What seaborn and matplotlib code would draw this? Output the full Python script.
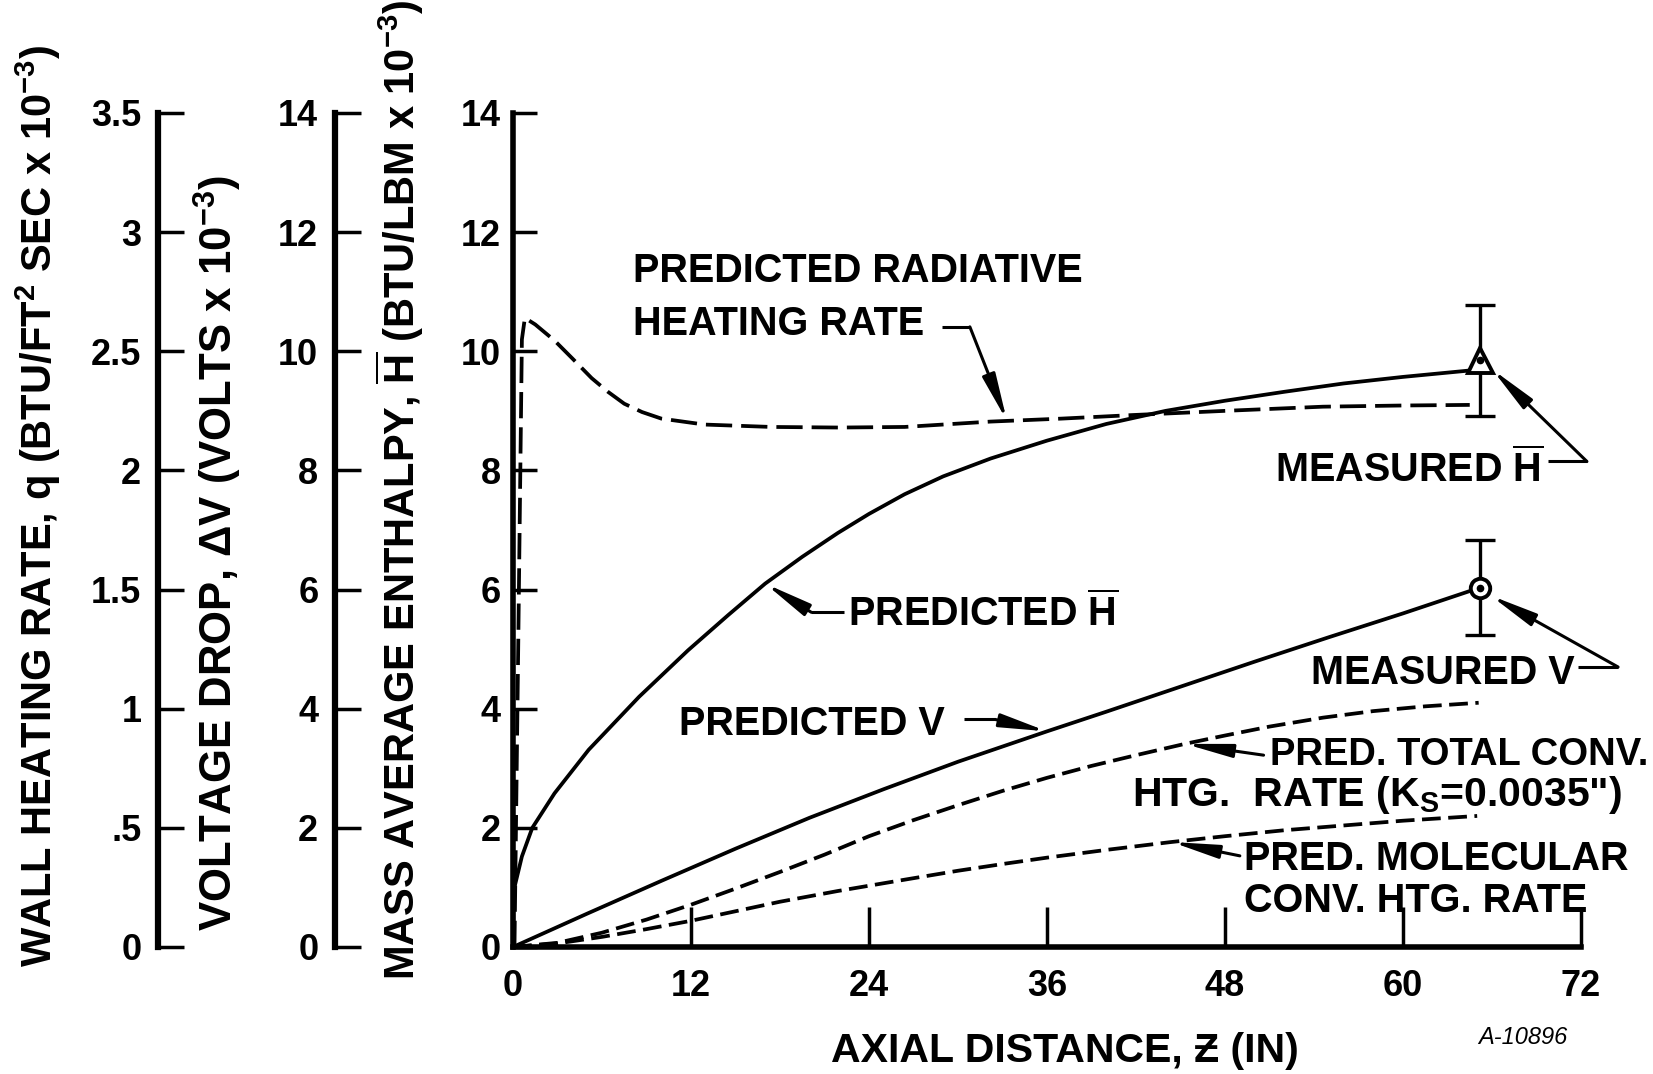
import numpy as np
import pandas as pd
import matplotlib
matplotlib.use("Agg")
import matplotlib.pyplot as plt
import seaborn as sns

# ---------------------------------------------------------------- data
# axial distance z (in) and curve values on the common 0-14 scale
Z_ENTH = [0, 0.6, 1.3, 2.8, 5.1, 8.5, 11.8, 14.5, 17.0, 19.5, 21.9, 24.0, 26.4,
          29.0, 32.2, 36.0, 40.0, 44.0, 48.0, 52.0, 56.0, 60.0, 64.6]
ENTH = [0.9, 1.52, 2.0, 2.58, 3.31, 4.2, 4.98, 5.57, 6.1, 6.55, 6.95, 7.27,
        7.6, 7.9, 8.2, 8.5, 8.78, 9.0, 9.17, 9.32, 9.46, 9.57, 9.68]

Z_RAD = [0.1, 0.35, 0.6, 0.8, 1.5, 2.8, 4.0, 5.3, 6.4, 7.5, 8.7, 10.0, 12.9,
         17.4, 22.0, 26.4, 32.2, 37.0, 41.8, 48.0, 54.6, 60.0, 64.5]
RAD = [0.0, 5.0, 10.2, 10.56, 10.45, 10.18, 9.88, 9.55, 9.32, 9.12, 8.98, 8.87,
       8.77, 8.73, 8.72, 8.73, 8.82, 8.87, 8.93, 9.0, 9.07, 9.09, 9.10]

Z_VOLT = [0, 5, 10, 15, 20, 25, 30, 36, 40, 45, 50, 55, 60, 64.8]
VOLT = [0, 0.56, 1.11, 1.65, 2.17, 2.65, 3.11, 3.62, 3.95, 4.37, 4.79, 5.2,
        5.6, 6.0]

Z_TOT = [0, 3, 6, 9, 12, 15, 18, 21, 24, 27, 30, 33, 36, 39, 42, 45.3, 48, 51,
         54.6, 58, 61.5, 65.1]
TOT = [0, 0.07, 0.24, 0.46, 0.71, 0.98, 1.26, 1.55, 1.86, 2.13, 2.38, 2.62,
       2.84, 3.04, 3.22, 3.41, 3.55, 3.7, 3.85, 3.96, 4.04, 4.1]

Z_MOL = [0, 3, 6, 9, 12, 15, 18, 21.9, 26.4, 30, 33.2, 36, 40, 44.3, 48, 52,
         56, 60, 65]
MOL = [0, 0.06, 0.17, 0.3, 0.44, 0.6, 0.76, 0.94, 1.13, 1.28, 1.4, 1.5, 1.63,
       1.76, 1.86, 1.96, 2.04, 2.12, 2.2]

# measured values with error range
MEAS_ENTH_Z, MEAS_ENTH, MEAS_ENTH_LO, MEAS_ENTH_HI = [65.2], [9.85], [8.92], [10.78]
MEAS_VOLT_Z, MEAS_VOLT, MEAS_VOLT_LO, MEAS_VOLT_HI = [65.2], [6.02], [5.24], [6.84]

X_TICKS = [0, 12, 24, 36, 48, 60, 72]
Y_TICKS = [0, 2, 4, 6, 8, 10, 12, 14]
Q_TICKS = [0, 0.5, 1, 1.5, 2, 2.5, 3, 3.5]
Q_LABELS = ["0", ".5", "1", "1.5", "2", "2.5", "3", "3.5"]

# ---------------------------------------------------------------- style
sns.set_theme(style="white")
plt.rcParams["font.family"] = ["Liberation Sans", "DejaVu Sans"]
plt.rcParams["font.weight"] = "bold"
plt.rcParams["mathtext.fontset"] = "custom"
plt.rcParams["mathtext.rm"] = "Liberation Sans:bold"
plt.rcParams["mathtext.bf"] = "Liberation Sans:bold"
plt.rcParams["mathtext.it"] = "Liberation Sans:bold"
plt.rcParams["mathtext.default"] = "rm"
plt.rcParams["axes.unicode_minus"] = True

INK = "black"
W, H = 1653, 1074
L, R, B, T = 513, 1581, 947, 113

fig = plt.figure(figsize=(W / 100, H / 100), dpi=100)
fig.patch.set_facecolor("white")
ax = fig.add_axes([L / W, 1 - B / H, (R - L) / W, (B - T) / H])
ax.set_facecolor("none")

# ---------------------------------------------------------------- curves
LW = 2.7
sns.lineplot(x=Z_ENTH, y=ENTH, ax=ax, color=INK, lw=LW, estimator=None, sort=False)
sns.lineplot(x=Z_VOLT, y=VOLT, ax=ax, color=INK, lw=LW, estimator=None, sort=False)
sns.lineplot(x=Z_RAD, y=RAD, ax=ax, color=INK, lw=LW, estimator=None, sort=False,
             linestyle=(0, (7, 2.4)))
sns.lineplot(x=Z_TOT, y=TOT, ax=ax, color=INK, lw=LW, estimator=None, sort=False,
             linestyle=(0, (5, 2)))
sns.lineplot(x=Z_MOL, y=MOL, ax=ax, color=INK, lw=LW, estimator=None, sort=False,
             linestyle=(0, (5, 2)))

# measured points with error bars
for zz, vv, lo, hi, mk, ms in [
        (MEAS_ENTH_Z, MEAS_ENTH, MEAS_ENTH_LO, MEAS_ENTH_HI, "^", 18),
        (MEAS_VOLT_Z, MEAS_VOLT, MEAS_VOLT_LO, MEAS_VOLT_HI, "o", 14)]:
    err = [np.subtract(vv, lo), np.subtract(hi, vv)]
    ax.errorbar(zz, vv, yerr=err, fmt="none", ecolor=INK, elinewidth=2.4,
                capsize=11, capthick=2.4, zorder=4)
    ax.plot(zz, vv, marker=mk, ms=ms, mfc="white", mec=INK, mew=2.8,
            linestyle="none", zorder=5)
    ax.plot(zz, vv, marker="o", ms=4.5, mfc=INK, mec=INK, linestyle="none",
            zorder=6)

# ---------------------------------------------------------------- main axes
ax.set_xlim(0, 72)
ax.set_ylim(0, 14)
ax.set_xticks(X_TICKS)
ax.set_yticks(Y_TICKS)
ax.set_yticks([14], minor=True)
for s in ["top", "right"]:
    ax.spines[s].set_visible(False)
for s in ["left", "bottom"]:
    ax.spines[s].set_linewidth(4)
    ax.spines[s].set_color(INK)
ax.tick_params(axis="y", which="major", direction="in", length=17, width=2.5,
               pad=9, labelsize=26, colors=INK, left=True)
ax.tick_params(axis="y", which="minor", direction="in", length=23, width=2.5,
               colors=INK, left=True)
ax.tick_params(axis="x", direction="in", length=29, width=2.5, pad=16,
               labelsize=26, colors=INK, bottom=True)
ax.set_xlabel("")
ax.set_ylabel("")

# ---------------------------------------------------------------- extra scales
def side_scale(xpix, lim, ticks, labels):
    a = fig.add_axes([xpix / W, 1 - B / H, 0.0004, (B - T) / H])
    a.set_ylim(*lim)
    a.set_yticks(ticks)
    a.set_yticklabels(labels)
    a.set_yticks([lim[0], lim[1]], minor=True)
    a.set_xticks([])
    a.patch.set_visible(False)
    for s in ["top", "right", "bottom"]:
        a.spines[s].set_visible(False)
    a.spines["left"].set_linewidth(4.5)
    a.spines["left"].set_color(INK)
    a.tick_params(axis="y", which="major", direction="in", length=19, width=2.5,
                  pad=12, labelsize=26, colors=INK, left=True)
    a.tick_params(axis="y", which="minor", direction="in", length=26, width=2.5,
                  colors=INK, left=True)
    return a

side_scale(158, (0, 3.5), Q_TICKS, Q_LABELS)
side_scale(335, (0, 14), Y_TICKS, [str(t) for t in Y_TICKS])

# ---------------------------------------------------------------- axis titles
fig.text(38 / W, 1 - 506 / H,
         r"WALL HEATING RATE, q (BTU/FT$^{2}$ SEC x 10$^{-3}$)",
         rotation=90, ha="center", va="center", fontsize=30, color=INK)
fig.text(218 / W, 1 - 553 / H,
         r"VOLTAGE DROP, ΔV (VOLTS x 10$^{-3}$)",
         rotation=90, ha="center", va="center", fontsize=31.5, color=INK)
fig.text(400 / W, 1 - 490 / H,
         r"MASS AVERAGE ENTHALPY, $\overline{\mathrm{H}}$ (BTU/LBM x 10$^{-3}$)",
         rotation=90, ha="center", va="center", fontsize=30, color=INK)
fig.text(1065 / W, 1 - 1051 / H, "AXIAL DISTANCE, Ƶ (IN)",
         ha="center", va="center", fontsize=29.5, color=INK)
fig.text(1523 / W, 1 - 1038 / H, "A-10896", ha="center", va="center",
         fontsize=17, fontstyle="italic", fontweight="normal", color=INK)

# ---------------------------------------------------------------- callouts
TXT = dict(fontsize=28.5, color=INK, va="center", ha="left", clip_on=False)
ARROW = dict(arrowstyle="-|>,head_length=1.4,head_width=0.2", color=INK,
             lw=2.2, shrinkA=0, shrinkB=0, mutation_scale=20)


def pointer(tail, corner, tip):
    if tail is not None:
        ax.plot([tail[0], corner[0]], [tail[1], corner[1]], color=INK, lw=2.2,
                clip_on=False, solid_capstyle="butt")
    ax.annotate("", xy=tip, xytext=corner, arrowprops=ARROW,
                annotation_clip=False)


ax.text(8.1, 11.35, "PREDICTED RADIATIVE", **TXT)
ax.text(8.1, 10.45, "HEATING RATE", **TXT)
pointer((28.9, 10.41), (30.8, 10.41), (33.3, np.interp(33.3, Z_RAD, RAD)))

ax.text(22.6, 5.6, r"PREDICTED $\overline{\mathrm{H}}$", **TXT)
pointer((22.3, 5.62), (20.1, 5.62), (17.0, np.interp(17.0, Z_ENTH, ENTH)))

ax.text(11.2, 3.75, "PREDICTED V", **TXT)
pointer((30.4, 3.82), (32.5, 3.82), (36.0, np.interp(36.0, Z_VOLT, VOLT)))

ax.text(51.0, 3.22, "PRED. TOTAL CONV.", **dict(TXT, fontsize=27.5))
ax.text(41.7, 2.55, r'HTG.  RATE (K$_{S}$=0.0035")', **dict(TXT, fontsize=29.5))
pointer(None, (50.6, 3.22), (45.3, np.interp(45.3, Z_TOT, TOT)))

ax.text(49.3, 1.48, "PRED. MOLECULAR", **TXT)
ax.text(49.3, 0.77, "CONV. HTG. RATE", **TXT)
pointer(None, (49.0, 1.53), (44.4, np.interp(44.4, Z_MOL, MOL)))

ax.text(51.4, 8.02, r"MEASURED $\overline{\mathrm{H}}$", **TXT)
pointer((69.8, 8.15), (72.4, 8.15), (66.0, 9.7))

ax.text(53.8, 4.6, "MEASURED V", **TXT)
pointer((71.8, 4.7), (74.5, 4.7), (65.9, 5.9))

fig.savefig("out.png", dpi=100, facecolor="white")
